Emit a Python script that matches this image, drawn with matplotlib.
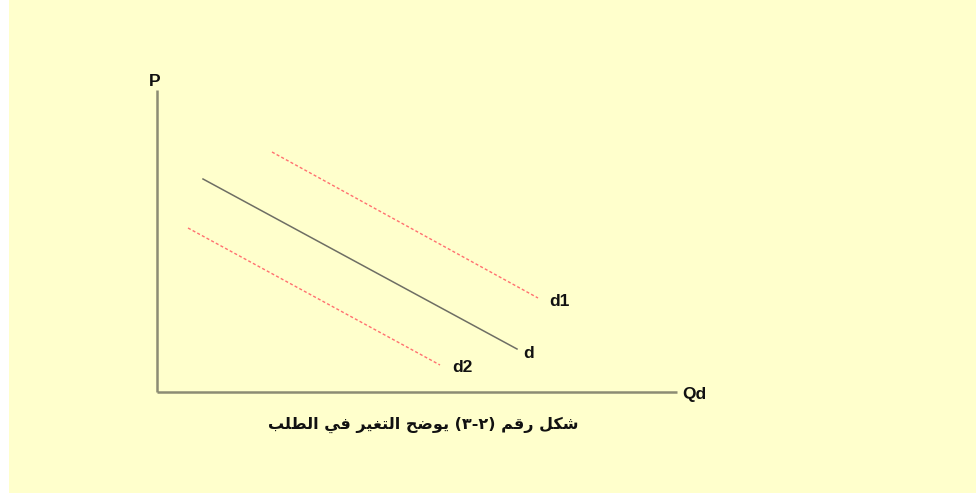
import matplotlib
matplotlib.use("Agg")
import matplotlib.pyplot as plt
from matplotlib.patches import Rectangle

# demand curves (quantity, price), origin at the axes corner
q_max = 520
p_max = 302

d_q = [46, 360]
d_p = [213, 43]
d1_q = [115, 381]
d1_p = [240, 94]
d2_q = [31, 283]
d2_p = [164, 27]

curve_names = ["d", "d1", "d2"]
axis_labels = ["P", "Qd"]
caption = "شكل رقم (٢-٣) يوضح التغير في الطلب"

# arabic shaping: (isolated, final, initial, medial), right-joining letters have 2 forms
forms = {
    "ا": (0xFE8D, 0xFE8E), "ر": (0xFEAD, 0xFEAE), "و": (0xFEED, 0xFEEE),
    "ب": (0xFE8F, 0xFE90, 0xFE91, 0xFE92), "ت": (0xFE95, 0xFE96, 0xFE97, 0xFE98),
    "ح": (0xFEA1, 0xFEA2, 0xFEA3, 0xFEA4), "ش": (0xFEB5, 0xFEB6, 0xFEB7, 0xFEB8),
    "ض": (0xFEBD, 0xFEBE, 0xFEBF, 0xFEC0), "ط": (0xFEC1, 0xFEC2, 0xFEC3, 0xFEC4),
    "غ": (0xFECD, 0xFECE, 0xFECF, 0xFED0), "ف": (0xFED1, 0xFED2, 0xFED3, 0xFED4),
    "ق": (0xFED5, 0xFED6, 0xFED7, 0xFED8), "ك": (0xFED9, 0xFEDA, 0xFEDB, 0xFEDC),
    "ل": (0xFEDD, 0xFEDE, 0xFEDF, 0xFEE0), "م": (0xFEE1, 0xFEE2, 0xFEE3, 0xFEE4),
    "ي": (0xFEF1, 0xFEF2, 0xFEF3, 0xFEF4),
}


def shape_arabic(s):
    out = []
    for i, c in enumerate(s):
        if c not in forms:
            out.append(c)
            continue
        prev = s[i - 1] if i > 0 else ""
        nxt = s[i + 1] if i + 1 < len(s) else ""
        f = forms[c]
        j_prev = prev in forms and len(forms[prev]) == 4
        j_next = len(f) == 4 and nxt in forms
        if j_prev and j_next:
            out.append(chr(f[3]))
        elif j_prev:
            out.append(chr(f[1]))
        elif j_next:
            out.append(chr(f[2]))
        else:
            out.append(chr(f[0]))
    vis = "".join(out)[::-1]
    return vis.translate(str.maketrans("()", ")("))


bg = "#FFFFCC"
axis_col = "#8c8c74"
line_col = "#6e6e64"
red = "#FF7070"

fig = plt.figure(figsize=(9.79, 4.95), dpi=100)
fig.patch.set_facecolor("white")
fig.patches.append(Rectangle((9 / 979, 2 / 495), 967 / 979, 493 / 495,
                             transform=fig.transFigure, facecolor=bg,
                             edgecolor="none", zorder=-10))

ax = fig.add_axes([0, 0, 1, 1])
ax.set_facecolor("none")
ax.set_xlim(-157, 822)
ax.set_ylim(-103, 392)
ax.axis("off")

# axes
ax.plot([0, 0], [0, p_max], color=axis_col, lw=1.8, solid_capstyle="butt")
ax.plot([0, q_max], [0, 0], color=axis_col, lw=1.8, solid_capstyle="butt")

lab_font = dict(family="Liberation Sans", fontweight="bold", fontsize=12.5, color="#111111")
ax.annotate(axis_labels[0], (0, p_max), xytext=(-2, 8), textcoords="offset pixels",
            ha="center", va="center", **lab_font)
ax.annotate(axis_labels[1], (q_max, 0), xytext=(17, -2), textcoords="offset pixels",
            ha="center", va="center", **lab_font)

# curves
ax.plot(d_q, d_p, color=line_col, lw=1.1)
ax.plot(d1_q, d1_p, color=red, lw=1.0, linestyle=(0, (2.2, 1.6)))
ax.plot(d2_q, d2_p, color=red, lw=1.0, linestyle=(0, (2.2, 1.6)))

offsets = [(12, -4), (21, -3), (22, -3)]
for name, qs, ps, off in zip(curve_names, [d_q, d1_q, d2_q], [d_p, d1_p, d2_p], offsets):
    ax.annotate(name, (qs[-1], ps[-1]), xytext=off, textcoords="offset pixels",
                ha="center", va="center", **lab_font)

fig.text(423 / 979, 1 - 425 / 495, shape_arabic(caption), ha="center", va="center",
         family=["DejaVu Sans"], fontweight="bold", fontsize=11.5, color="#111111")

fig.savefig("out.png", dpi=100, facecolor=fig.get_facecolor())
